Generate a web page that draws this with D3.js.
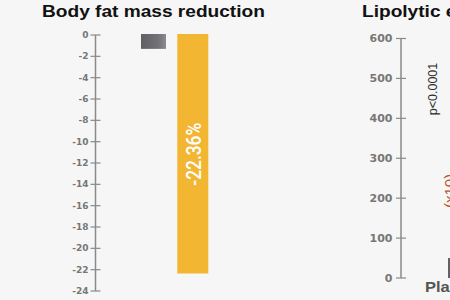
<!DOCTYPE html>
<html><head><meta charset="utf-8">
<script src="https://cdn.jsdelivr.net/npm/d3@7"></script>
<style>
html,body{margin:0;padding:0;background:#f6f6f6;overflow:hidden}
svg{display:block}
</style></head>
<body>
<svg id="c" width="450" height="300"></svg>
<script>
// ---- data ----
const leftTitle = "Body fat mass reduction";
const leftCategories = ["Placebo", "Treatment"];
const leftValues = [-1.3, -22.36];
const leftValueLabels = ["", "-22.36%"];
const leftTicks = [0, -2, -4, -6, -8, -10, -12, -14, -16, -18, -20, -22, -24];

const rightTitle = "Lipolytic effect";
const rightCategories = ["Placebo"];
const rightValues = [50];
const rightTicks = [0, 100, 200, 300, 400, 500, 600];
const rightAnnotations = ["p<0.0001", "(x10)"];

// ---- drawing ----
const svg = d3.select("#c");
svg.append("rect").attr("width",450).attr("height",300).attr("fill","#f6f6f6");

const defs = svg.append("defs");
const g1 = defs.append("linearGradient").attr("id","gray").attr("x1","0").attr("x2","1").attr("y1","0").attr("y2","0");
g1.append("stop").attr("offset","0").attr("stop-color","#5f5f64");
g1.append("stop").attr("offset","0.7").attr("stop-color","#727277");
g1.append("stop").attr("offset","1").attr("stop-color","#8c8c90");

const axisColor = "#8a8a8a";
const labelColor = "#777";
const titleScale = 1.18;

// Left chart
const yL = d3.scaleLinear().domain([0, -24]).range([35, 291]);
const xL = d3.scalePoint().domain(leftCategories).range([153.5, 192.8]);
const barW = [25, 31];
const barFill = ["url(#gray)", "#f2b633"];

svg.append("text").text(leftTitle)
  .attr("transform", `translate(42,16.5) scale(${titleScale},1)`)
  .attr("font-family","Liberation Sans, Arial, sans-serif").attr("font-weight","bold")
  .attr("font-size",16.2).attr("fill","#111");

const axL = svg.append("g");
axL.append("line").attr("x1",95.5).attr("x2",95.5).attr("y1",yL(0)).attr("y2",yL(-24))
  .attr("stroke",axisColor).attr("stroke-width",1.5);
axL.selectAll("line.t").data(leftTicks).join("line").attr("class","t")
  .attr("x1",90.5).attr("x2",100.5).attr("y1",d=>yL(d)).attr("y2",d=>yL(d))
  .attr("stroke",axisColor).attr("stroke-width",1.2);
axL.selectAll("text").data(leftTicks).join("text")
  .attr("x",88.5).attr("y",d=>yL(d)).attr("dy","0.35em").attr("text-anchor","end")
  .attr("font-family","DejaVu Sans, sans-serif").attr("font-weight","bold")
  .attr("font-size",9).attr("fill",labelColor).text(d=>d);

svg.selectAll("rect.lb").data(leftValues).join("rect").attr("class","lb")
  .attr("x",(d,i)=>xL(leftCategories[i]) - barW[i]/2)
  .attr("width",(d,i)=>barW[i])
  .attr("y",yL(0)-1)
  .attr("height",d=>yL(d)-yL(0)+1)
  .attr("fill",(d,i)=>barFill[i]);

svg.selectAll("text.vl").data(leftValues).join("text").attr("class","vl")
  .attr("transform",(d,i)=>`translate(${xL(leftCategories[i])+1},${yL(d/2)}) rotate(-90)`)
  .attr("text-anchor","middle").attr("dy","0.35em")
  .attr("font-family","Roboto, Liberation Sans, sans-serif").attr("font-weight",500)
  .attr("font-size",21).attr("fill","#fff")
  .each(function(d,i){ if(leftValueLabels[i]) d3.select(this).attr("textLength",63).attr("lengthAdjust","spacingAndGlyphs"); })
  .text((d,i)=>leftValueLabels[i]);

// Right chart
const yR = d3.scaleLinear().domain([0, 600]).range([278, 38.5]);
const xR = d3.scalePoint().domain(rightCategories).range([460, 460]);

svg.append("text").text(rightTitle)
  .attr("transform", `translate(362,16.5) scale(${titleScale},1)`)
  .attr("font-family","Liberation Sans, Arial, sans-serif").attr("font-weight","bold")
  .attr("font-size",16.2).attr("fill","#111");

const axR = svg.append("g");
axR.append("line").attr("x1",401).attr("x2",401).attr("y1",yR(600)).attr("y2",yR(0))
  .attr("stroke",axisColor).attr("stroke-width",1.5);
axR.selectAll("line.t").data(rightTicks).join("line").attr("class","t")
  .attr("x1",396).attr("x2",406).attr("y1",d=>yR(d)).attr("y2",d=>yR(d))
  .attr("stroke",axisColor).attr("stroke-width",1.2);
axR.selectAll("text").data(rightTicks).join("text")
  .attr("x",392.5).attr("y",d=>yR(d)).attr("dy","0.35em").attr("text-anchor","end")
  .attr("font-family","DejaVu Sans, sans-serif").attr("font-weight","bold")
  .attr("font-size",11).attr("fill",labelColor).text(d=>d);

svg.selectAll("rect.rb").data(rightValues).join("rect").attr("class","rb")
  .attr("x",(d,i)=>xR(rightCategories[i]) - 12)
  .attr("width",24)
  .attr("y",d=>yR(d)).attr("height",d=>yR(0)-yR(d))
  .attr("fill","url(#gray)");

svg.selectAll("text.rc").data(rightCategories).join("text").attr("class","rc")
  .attr("transform",`translate(425,292) scale(${titleScale},1)`)
  .attr("font-family","Liberation Sans, Arial, sans-serif").attr("font-weight","bold")
  .attr("font-size",14).attr("fill","#555").text(d=>d);

svg.append("text").text(rightAnnotations[0])
  .attr("transform","translate(437,89) rotate(-90)")
  .attr("text-anchor","middle")
  .attr("font-family","Liberation Sans, Arial, sans-serif")
  .attr("font-size",12.5).attr("fill","#2a2a2a");

svg.append("text").text(rightAnnotations[1])
  .attr("transform","translate(454.5,208) rotate(-90)")
  .attr("text-anchor","start")
  .attr("font-family","Liberation Sans, Arial, sans-serif")
  .attr("font-size",15).attr("fill","#b4562c");
</script>
</body></html>
